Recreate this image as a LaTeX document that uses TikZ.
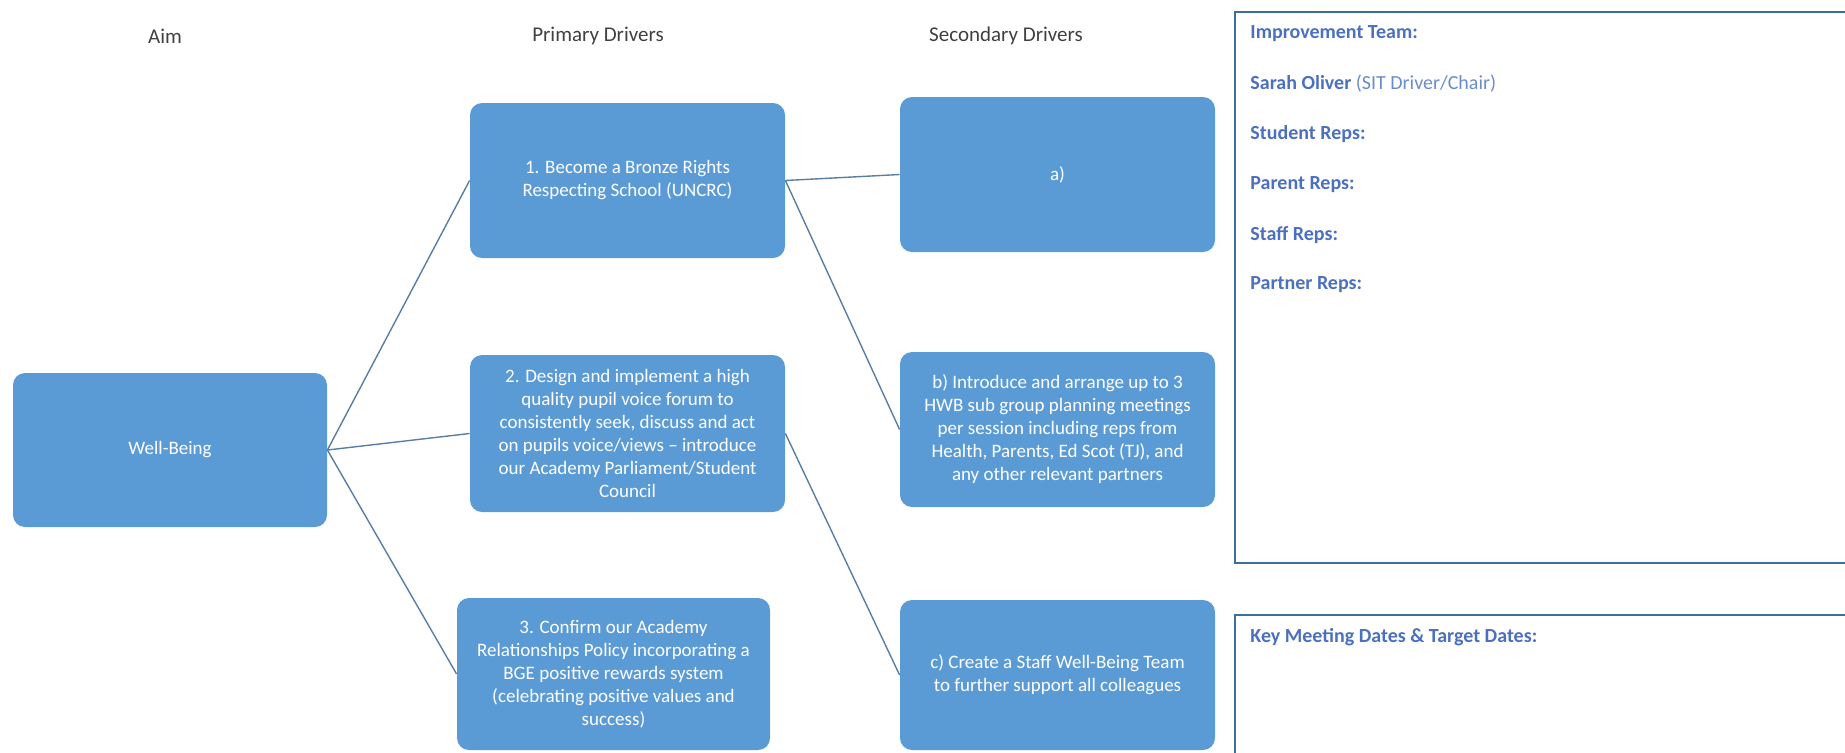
\documentclass[tikz,border=0pt]{standalone}
\usepackage{fontspec}
\setmainfont{Carlito}
\definecolor{boxblue}{HTML}{5B9BD5}
\definecolor{linkblue}{HTML}{5A7DA4}
\definecolor{panelblue}{HTML}{3E6E9B}
\definecolor{teamblue}{HTML}{4A70BF}
\definecolor{chairblue}{HTML}{6A8CCB}
\definecolor{headgray}{HTML}{404040}
\begin{document}
\begin{tikzpicture}[x=0.5pt,y=-0.5pt,
	driver/.style={fill=boxblue, rounded corners=6pt, text=white, align=center, inner sep=2pt, font=\fontsize{9.5}{11.5}\selectfont},
	link/.style={draw=linkblue, line width=0.7pt},
	head/.style={text=headgray, font=\fontsize{10.5}{12.5}\selectfont},
	panel/.style={draw=panelblue, line width=1pt},
	rep/.style={anchor=west, text=teamblue, inner sep=0pt, font=\fontsize{10}{12}\selectfont\bfseries}]
	\useasboundingbox (0,0) rectangle (1845,752);
	\clip (0,0) rectangle (1845,752);
	% column headings
	\node[head] (aimlbl) at (165,36) {Aim};
	\node[head] (primlbl) at (598,36) {Primary Drivers};
	\node[head] (seclbl) at (1006,36) {Secondary Drivers};
	% aim
	\node[driver, minimum width=157pt, minimum height=77pt] (wellbeing) at (170,450) {Well-Being};
	% primary drivers
	\node[driver, minimum width=157.5pt, minimum height=77.5pt] (pone) at (627.5,180.5) {1. Become a Bronze Rights\\Respecting School (UNCRC)};
	\node[driver, minimum width=157.5pt, minimum height=78.5pt] (ptwo) at (627.5,433.5) {2. Design and implement a high\\quality pupil voice forum to\\consistently seek, discuss and act\\on pupils voice/views -- introduce\\our Academy Parliament/Student\\Council};
	\node[driver, minimum width=156.5pt, minimum height=76pt] (pthree) at (613.5,674) {3. Confirm our Academy\\Relationships Policy incorporating a\\BGE positive rewards system\\(celebrating positive values and\\success)};
	% secondary drivers
	\node[driver, minimum width=157.5pt, minimum height=77.5pt] (sa) at (1057.5,174.5) {a)};
	\node[driver, minimum width=157.5pt, minimum height=77.5pt] (sb) at (1057.5,429.5) {b) Introduce and arrange up to 3\\HWB sub group planning meetings\\per session including reps from\\Health, Parents, Ed Scot (TJ), and\\any other relevant partners};
	\node[driver, minimum width=157.5pt, minimum height=75pt] (sc) at (1057.5,675) {c) Create a Staff Well-Being Team\\to further support all colleagues};
	% links
	\foreach \p in {pone,ptwo,pthree}
		\draw[link] (wellbeing.east) -- (\p.west);
	\draw[link] (pone.east) -- (sa.west);
	\draw[link] (pone.east) -- (sb.west);
	\draw[link] (ptwo.east) -- (sc.west);
	% improvement team panel
	\draw[panel] (1235,12) rectangle (1860,563);
	\node[rep] (teamhd) at (1250,34) {Improvement Team:};
	\node[rep] (sarah) at (1250,84) {Sarah Oliver \mdseries\textcolor{chairblue}{(SIT Driver/Chair)}};
	\node[rep] (student) at (1250,134) {Student Reps:};
	\node[rep] (parent) at (1250,185) {Parent Reps:};
	\node[rep] (staff) at (1250,235) {Staff Reps:};
	\node[rep] (partner) at (1250,285) {Partner Reps:};
	% dates panel
	\draw[panel] (1235,615) rectangle (1860,770);
	\node[rep] (dates) at (1250,637) {Key Meeting Dates \& Target Dates:};
\end{tikzpicture}
\end{document}
